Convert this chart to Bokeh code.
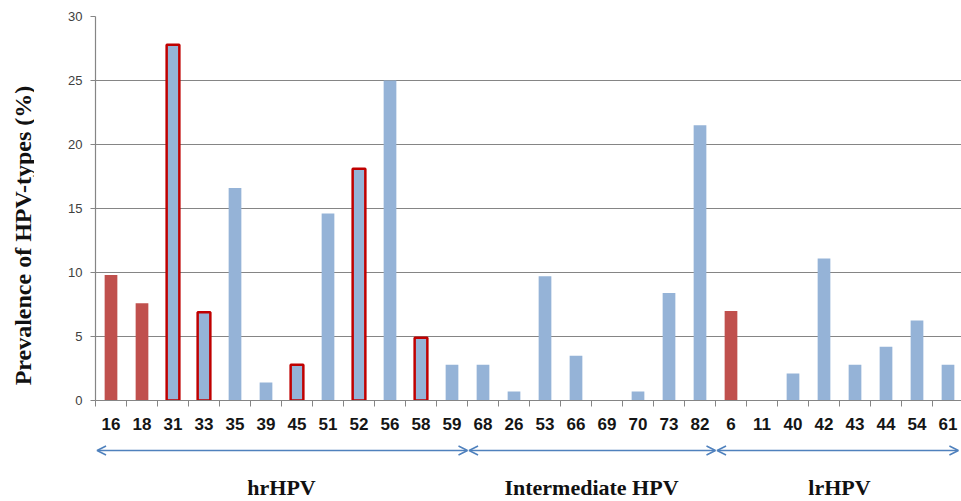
import math
from bokeh.plotting import figure
from bokeh.layouts import row, column
from bokeh.models import Range1d, FixedTicker, Arrow, OpenHead, ColumnDataSource
from bokeh.core.properties import value
from bokeh.embed import file_html
from bokeh.resources import INLINE

# ---- data ----
hpv_types = ["16", "18", "31", "33", "35", "39", "45", "51", "52", "56", "58", "59",
             "68", "26", "53", "66", "69", "70", "73", "82",
             "6", "11", "40", "42", "43", "44", "54", "61"]
prevalence = [9.8, 7.6, 27.8, 6.9, 16.6, 1.4, 2.8, 14.6, 18.1, 25.0, 4.9, 2.8,
              2.8, 0.7, 9.7, 3.5, 0.0, 0.7, 8.4, 21.5,
              7.0, 0.0, 2.1, 11.1, 2.8, 4.2, 6.25, 2.8]
red_filled = ["16", "18", "6"]
red_outlined = ["31", "33", "45", "52", "58"]
groups = ["hrHPV", "Intermediate HPV", "lrHPV"]
group_sizes = [12, 8, 8]
y_ticks = [0, 5, 10, 15, 20, 25, 30]
y_title = "Prevalence of HPV-types (%)"

BLUE = "#95B3D7"
RED = "#C0504D"
DARKRED = "#C00000"
GRID = "#858585"
ARROW = "#4F81BD"

n = len(hpv_types)
xs = list(range(n))
TOTAL_W, TOTAL_H = 961, 501
LEFT_W = 34
FRAME_LEFT = 95
P_H = 435
x_max = -0.5 + (TOTAL_W - FRAME_LEFT) / 31
x_range = Range1d(-0.5, x_max)

# ---- main chart ----
p = figure(width=TOTAL_W - LEFT_W, height=P_H, output_backend="svg", toolbar_location=None,
           x_range=x_range, y_range=Range1d(0, 30),
           min_border_left=FRAME_LEFT - LEFT_W, min_border_right=0,
           min_border_top=16, min_border_bottom=35)
p.outline_line_color = None

def subset(keys):
    xx, tt = [], []
    for i, (t, v) in enumerate(zip(hpv_types, prevalence)):
        if t in keys:
            xx.append(i)
            tt.append(v)
    return ColumnDataSource(dict(x=xx, top=tt))

plain = [t for t in hpv_types if t not in red_filled and t not in red_outlined]
p.vbar(x="x", top="top", width=0.41, source=subset(plain),
       fill_color=BLUE, line_color=None)
p.vbar(x="x", top="top", width=0.41, source=subset(red_filled),
       fill_color=RED, line_color=None)
p.vbar(x="x", top="top", width=0.41, source=subset(red_outlined),
       fill_color=BLUE, line_color=DARKRED, line_width=2.5)

p.yaxis.ticker = FixedTicker(ticks=y_ticks)
p.yaxis.axis_line_color = GRID
p.yaxis.axis_line_width = 1.2
p.yaxis.major_tick_line_color = GRID
p.yaxis.major_tick_out = 5
p.yaxis.major_tick_in = 0
p.yaxis.minor_tick_line_color = None
p.yaxis.major_label_text_font = "Liberation Sans"
p.yaxis.major_label_text_font_size = "13px"
p.yaxis.major_label_text_color = "#404040"
p.yaxis.major_label_standoff = 8
p.ygrid.grid_line_color = GRID
p.ygrid.grid_line_width = 1.2
p.xgrid.grid_line_color = None

p.xaxis.ticker = FixedTicker(ticks=xs, minor_ticks=[i - 0.5 for i in range(n + 1)])
p.xaxis.major_label_overrides = {i: t for i, t in enumerate(hpv_types)}
p.xaxis.axis_line_color = GRID
p.xaxis.axis_line_width = 1.2
p.xaxis.major_tick_line_color = None
p.xaxis.major_tick_out = 0
p.xaxis.major_tick_in = 0
p.xaxis.minor_tick_line_color = GRID
p.xaxis.minor_tick_out = 6
p.xaxis.minor_tick_in = 0
p.xaxis.major_label_text_font = "Liberation Sans"
p.xaxis.major_label_text_font_style = "bold"
p.xaxis.major_label_text_font_size = "17px"
p.xaxis.major_label_text_color = "#151515"
p.xaxis.major_label_standoff = 11

# ---- group arrows and labels below ----
Q_H = TOTAL_H - P_H
q = figure(width=TOTAL_W - LEFT_W, height=Q_H, output_backend="svg", toolbar_location=None,
           x_range=x_range, y_range=Range1d(0, Q_H),
           min_border_left=FRAME_LEFT - LEFT_W, min_border_right=0,
           min_border_top=0, min_border_bottom=0)
q.axis.visible = False
q.grid.grid_line_color = None
q.outline_line_color = None

starts, ends, centers = [], [], []
s = -0.5
for size in group_sizes:
    starts.append(s)
    ends.append(s + size)
    centers.append(s + size / 2)
    s += size
for a, b in zip(starts, ends):
    q.add_layout(Arrow(x_start=a + 0.05, y_start=Q_H - 15, x_end=min(b, x_max - 0.1), y_end=Q_H - 15,
                       line_color=ARROW, line_width=1.5,
                       start=OpenHead(size=9, line_color=ARROW, line_width=1.5),
                       end=OpenHead(size=9, line_color=ARROW, line_width=1.5)))
q.text(x=centers, y=[14] * len(groups), text=groups,
       text_align="center", text_baseline="middle",
       text_font=value("Liberation Serif"), text_font_style="bold",
       text_font_size="22px", text_color="#111111")

# ---- y axis title panel ----
t = figure(width=LEFT_W, height=TOTAL_H, output_backend="svg", toolbar_location=None,
           x_range=Range1d(0, LEFT_W), y_range=Range1d(0, TOTAL_H),
           min_border=0)
t.axis.visible = False
t.grid.grid_line_color = None
t.outline_line_color = None
t.text(x=[22], y=[TOTAL_H - 235], text=[y_title], angle=math.pi / 2,
       text_align="center", text_baseline="middle",
       text_font=value("Liberation Serif"), text_font_style="bold",
       text_font_size="24px", text_color="#111111")

layout = row(t, column(p, q))
open("out.html", "w").write(file_html(layout, INLINE))
